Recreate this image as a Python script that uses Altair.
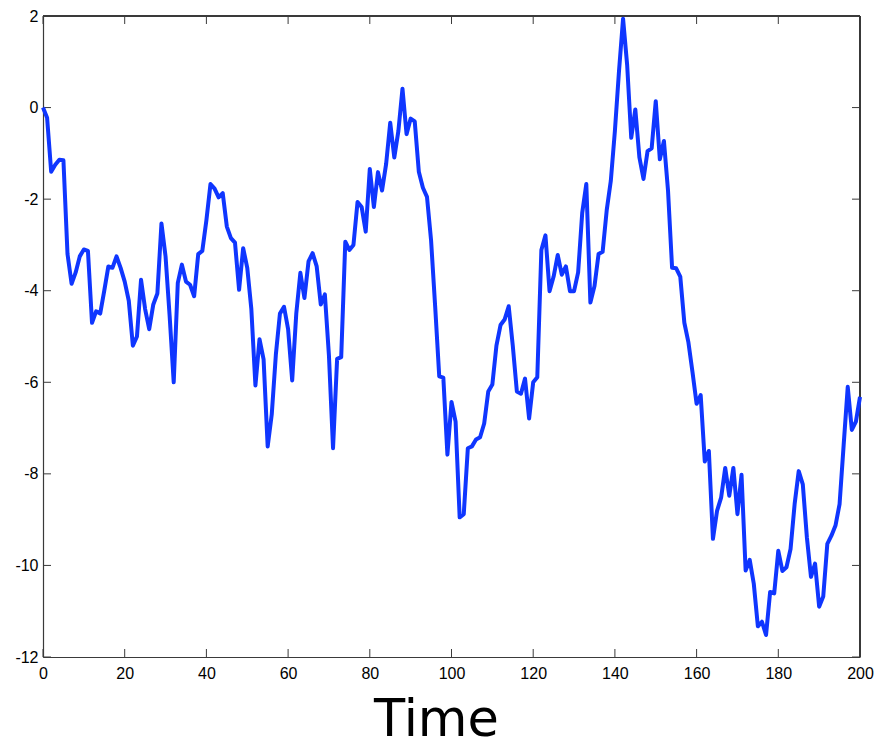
import altair as alt
import pandas as pd

time = list(range(201))
values = [
    0.0, -0.22, -1.4, -1.25, -1.14, -1.15, -3.2, -3.85, -3.6, -3.25,
    -3.1, -3.13, -4.7, -4.45, -4.5, -4.0, -3.47, -3.5, -3.25, -3.5,
    -3.8, -4.22, -5.2, -5.0, -3.76, -4.4, -4.84, -4.3, -4.06, -2.53,
    -3.25, -4.55, -6.0, -3.83, -3.43, -3.8, -3.87, -4.12, -3.2, -3.13,
    -2.46, -1.67, -1.77, -1.96, -1.87, -2.6, -2.85, -2.95, -3.98, -3.07,
    -3.5, -4.4, -6.07, -5.06, -5.5, -7.4, -6.7, -5.4, -4.5, -4.35,
    -4.84, -5.96, -4.5, -3.61, -4.16, -3.36, -3.18, -3.47, -4.3, -4.08,
    -5.42, -7.44, -5.49, -5.45, -2.93, -3.11, -3.0, -2.06, -2.17, -2.71,
    -1.34, -2.17, -1.41, -1.81, -1.23, -0.33, -1.09, -0.51, 0.41, -0.58,
    -0.24, -0.3, -1.4, -1.75, -1.95, -2.9, -4.34, -5.87, -5.9, -7.58,
    -6.43, -6.86, -8.95, -8.88, -7.44, -7.4, -7.25, -7.2, -6.9, -6.2,
    -6.05, -5.2, -4.75, -4.63, -4.34, -5.2, -6.2, -6.25, -5.92, -6.79,
    -6.0, -5.89, -3.11, -2.79, -4.01, -3.69, -3.22, -3.65, -3.47, -4.01,
    -4.01, -3.6, -2.3, -1.67, -4.26, -3.9, -3.2, -3.15, -2.24, -1.6,
    -0.51, 0.79, 1.94, 0.93, -0.66, -0.04, -1.09, -1.56, -0.95, -0.89,
    0.14, -1.13, -0.73, -1.81, -3.5, -3.51, -3.69, -4.7, -5.13, -5.78,
    -6.47, -6.28, -7.73, -7.5, -9.42, -8.81, -8.52, -7.87, -8.48, -7.87,
    -8.88, -8.02, -10.11, -9.88, -10.4, -11.33, -11.23, -11.52, -10.58, -10.61,
    -9.68, -10.12, -10.04, -9.64, -8.66, -7.94, -8.23, -9.39, -10.25, -9.96,
    -10.9, -10.68, -9.53, -9.35, -9.13, -8.66, -7.37, -6.1, -7.04, -6.86,
    -6.32,
]
x_ticks = [0, 20, 40, 60, 80, 100, 120, 140, 160, 180, 200]
y_ticks = [-12, -10, -8, -6, -4, -2, 0, 2]
x_title = "Time"

W, H = 817, 641
TL = 8
AX = "#3a3a3a"
FONT = "Liberation Sans"

df = pd.DataFrame({"t": time, "v": values})
xt = pd.DataFrame({"t": x_ticks})
yt = pd.DataFrame({"v": y_ticks})

xs = alt.Scale(domain=[0, 200], nice=False, zero=False)
ys = alt.Scale(domain=[-12, 2], nice=False, zero=False)

xaxis = alt.Axis(
    values=x_ticks, title=x_title, ticks=False, tickSize=0, domain=True,
    domainColor=AX, domainWidth=1.2, grid=False, labelFlush=False,
    labelFont=FONT, labelFontSize=16, labelColor="black", labelPadding=8,
    titleFont="DejaVu Sans", titleFontSize=51, titleFontWeight="normal", titleColor="black",
    titleX=393, titleY=89, titleAlign="center", titleBaseline="bottom",
)
yaxis = alt.Axis(
    values=y_ticks, title=None, ticks=False, tickSize=0, domain=True,
    domainColor=AX, domainWidth=1.2, grid=False, labelFlush=False,
    labelFont=FONT, labelFontSize=16, labelColor="black", labelPadding=5,
    labelExpr="datum.value < 0 ? '-' + abs(datum.value) : '' + datum.value",
)

X = alt.X("t:Q", scale=xs, axis=xaxis, title=x_title)
Y = alt.Y("v:Q", scale=ys, axis=yaxis, title=None)

line = alt.Chart(df).mark_line(color="#0f36ff", strokeWidth=4, strokeJoin="round").encode(
    x=X, y=Y)

xb = alt.Chart(xt).mark_rule(color=AX, strokeWidth=1).encode(
    x=X, y=alt.value(H), y2=alt.value(H - TL))
xtop = alt.Chart(xt).mark_rule(color=AX, strokeWidth=1).encode(
    x=X, y=alt.value(0), y2=alt.value(TL))
yl = alt.Chart(yt).mark_rule(color=AX, strokeWidth=1).encode(
    y=Y, x=alt.value(0), x2=alt.value(TL))
yr = alt.Chart(yt).mark_rule(color=AX, strokeWidth=1).encode(
    y=Y, x=alt.value(W - TL), x2=alt.value(W))

# top and right frame edges
frame_top = alt.Chart(xt).mark_rule(color=AX, strokeWidth=1.2).encode(
    x=alt.value(0), x2=alt.value(W), y=alt.value(0))
frame_right = alt.Chart(xt).mark_rule(color=AX, strokeWidth=1.2).encode(
    x=alt.value(W), y=alt.value(0), y2=alt.value(H))

chart = alt.layer(xb, xtop, yl, yr, frame_top, frame_right, line).properties(
    width=W, height=H,
    autosize=alt.AutoSizeParams(type="none"),
    padding={"left": 35, "top": 8, "right": 14, "bottom": 89},
).configure_view(stroke=None).configure(background="white")

chart.save("out.html", embed_options={"renderer": "svg", "actions": False})
